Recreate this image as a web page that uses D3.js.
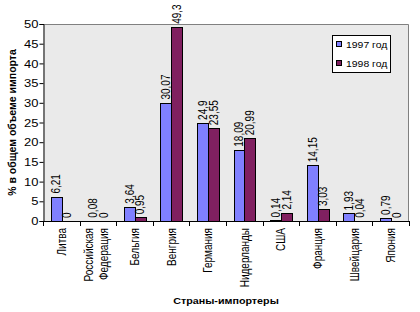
<!DOCTYPE html>
<html>
<head>
<meta charset="utf-8">
<script src="https://cdn.jsdelivr.net/npm/d3@7"></script>
<style>
  body { margin: 0; background: #fff; }
  text { font-family: "Liberation Sans", Arial, sans-serif; fill: #000; }
</style>
</head>
<body>
<svg id="chart" width="420" height="312"></svg>
<script>
// data
const countries = [
  ['Литва'], ['Российская', 'Федерация'], ['Бельгия'], ['Венгрия'], ['Германия'],
  ['Нидерланды'], ['США'], ['Франция'], ['Швейцария'], ['Япония']
];
const years = ['1997 год', '1998 год'];
const v1997 = [6.21, 0.08, 3.64, 30.07, 24.9, 18.09, 0.14, 14.15, 1.93, 0.79];
const v1998 = [0, 0, 0.95, 49.3, 23.55, 20.99, 2.14, 3.03, 0.04, 0];
const yTicks = [0, 5, 10, 15, 20, 25, 30, 35, 40, 45, 50];

const COLORS = ['#8080ff', '#802060'];
const SX = 1.3;   // the source picture is stretched horizontally

const svg = d3.select('#chart');
const plot = { left: 43, right: 409, top: 24, bottom: 221 };

const x = d3.scaleBand()
  .domain(d3.range(countries.length))
  .range([plot.left, plot.right]);
const xSub = d3.scaleBand()
  .domain([0, 1])
  .range([0, x.bandwidth()])
  .paddingOuter(0.72)
  .paddingInner(0);
const y = d3.scaleLinear().domain([0, 50]).range([plot.bottom, plot.top]);

const fmt = v => String(v).replace('.', ',');

// plot background + grey frame (top/right)
svg.append('rect')
  .attr('x', plot.left).attr('y', plot.top)
  .attr('width', plot.right - plot.left).attr('height', plot.bottom - plot.top)
  .attr('fill', '#eaeaea');
svg.append('path')
  .attr('d', `M${plot.left},${plot.top + 0.5}H${plot.right - 0.5}V${plot.bottom}`)
  .attr('fill', 'none').attr('stroke', '#808080');

// bars
const series = [v1997, v1998];
series.forEach((vals, s) => {
  svg.append('g').selectAll('rect')
    .data(vals)
    .join('rect')
    .attr('x', (d, i) => Math.round(x(i) + xSub(s)) + 0.5)
    .attr('y', d => Math.round(y(d)) + 0.5)
    .attr('width', Math.round(xSub.bandwidth()))
    .attr('height', d => Math.max(0, Math.round(y(0)) - Math.round(y(d))))
    .attr('fill', COLORS[s])
    .attr('stroke', '#000')
    .attr('stroke-width', 1)
    .attr('display', d => d > 0 ? null : 'none');

  // value labels, rotated
  svg.append('g').selectAll('text')
    .data(vals)
    .join('text')
    .attr('transform', (d, i) => {
      const cx = x(i) + xSub(s) + xSub.bandwidth() / 2 + 4.5;
      return `translate(${cx},${y(d) - 3}) rotate(-90) scale(1,${SX})`;
    })
    .attr('font-size', 10)
    .attr('text-anchor', 'start')
    .text(d => fmt(d));
});

// y axis
const yAxis = svg.append('g')
  .attr('transform', `translate(${plot.left + 0.5},0)`)
  .call(d3.axisLeft(y).tickValues(yTicks).tickSize(4).tickPadding(1));
yAxis.select('.domain').attr('stroke', '#000');
yAxis.selectAll('.tick line').attr('stroke', '#000');
yAxis.selectAll('.tick text')
  .attr('font-size', 10)
  .attr('font-family', '"Liberation Sans", Arial, sans-serif')
  .attr('dy', '0.36em')
  .attr('transform', function () {
    const tx = +d3.select(this).attr('x');
    return `translate(${tx},0) scale(${SX},1) translate(${-tx},0)`;
  });

// x axis: ticks at category boundaries
const xEdges = d3.range(countries.length + 1).map(i => plot.left + i * x.step());
svg.append('line')
  .attr('x1', plot.left).attr('x2', plot.right)
  .attr('y1', plot.bottom + 0.5).attr('y2', plot.bottom + 0.5)
  .attr('stroke', '#000');
svg.append('g').selectAll('line')
  .data(xEdges)
  .join('line')
  .attr('x1', d => Math.round(d) + 0.5).attr('x2', d => Math.round(d) + 0.5)
  .attr('y1', plot.bottom).attr('y2', plot.bottom + 5)
  .attr('stroke', '#000');

// category labels, rotated
const catG = svg.append('g').selectAll('g')
  .data(countries)
  .join('g');
catG.each(function (lines, i) {
  const cx = x(i) + x.bandwidth() / 2;
  const offs = lines.length === 1 ? [0] : [-9.5, 5.5];
  lines.forEach((ln, k) => {
    d3.select(this).append('text')
      .attr('transform', `translate(${cx + offs[k] + 4.5},228) rotate(-90) scale(1,${SX})`)
      .attr('font-size', 10)
      .attr('text-anchor', 'end')
      .text(ln);
  });
});

// axis titles
svg.append('text')
  .attr('transform', `translate(15.5,${(plot.top + plot.bottom) / 2}) rotate(-90)`)
  .attr('font-size', 10.5)
  .attr('font-weight', 'bold')
  .attr('text-anchor', 'middle')
  .text('% в общем объеме импорта');

svg.append('text')
  .attr('transform', 'translate(226,304) scale(1.13,1)')
  .attr('font-size', 9.5)
  .attr('font-weight', 'bold')
  .attr('text-anchor', 'middle')
  .text('Страны-импортеры');

// legend
const lg = svg.append('g').attr('transform', 'translate(332.5,35.5)');
lg.append('rect')
  .attr('width', 58).attr('height', 37)
  .attr('fill', '#fff').attr('stroke', '#000');
const item = lg.selectAll('g.item')
  .data(years)
  .join('g')
  .attr('class', 'item')
  .attr('transform', (d, i) => `translate(4,${9 + i * 19})`);
item.append('rect')
  .attr('x', 0).attr('y', -3).attr('width', 5).attr('height', 5)
  .attr('fill', (d, i) => COLORS[i]).attr('stroke', '#000');
item.append('text')
  .attr('transform', 'translate(9.5,3.5) scale(1.16,1)')
  .attr('font-size', 9)
  .text(d => d);
</script>
</body>
</html>
